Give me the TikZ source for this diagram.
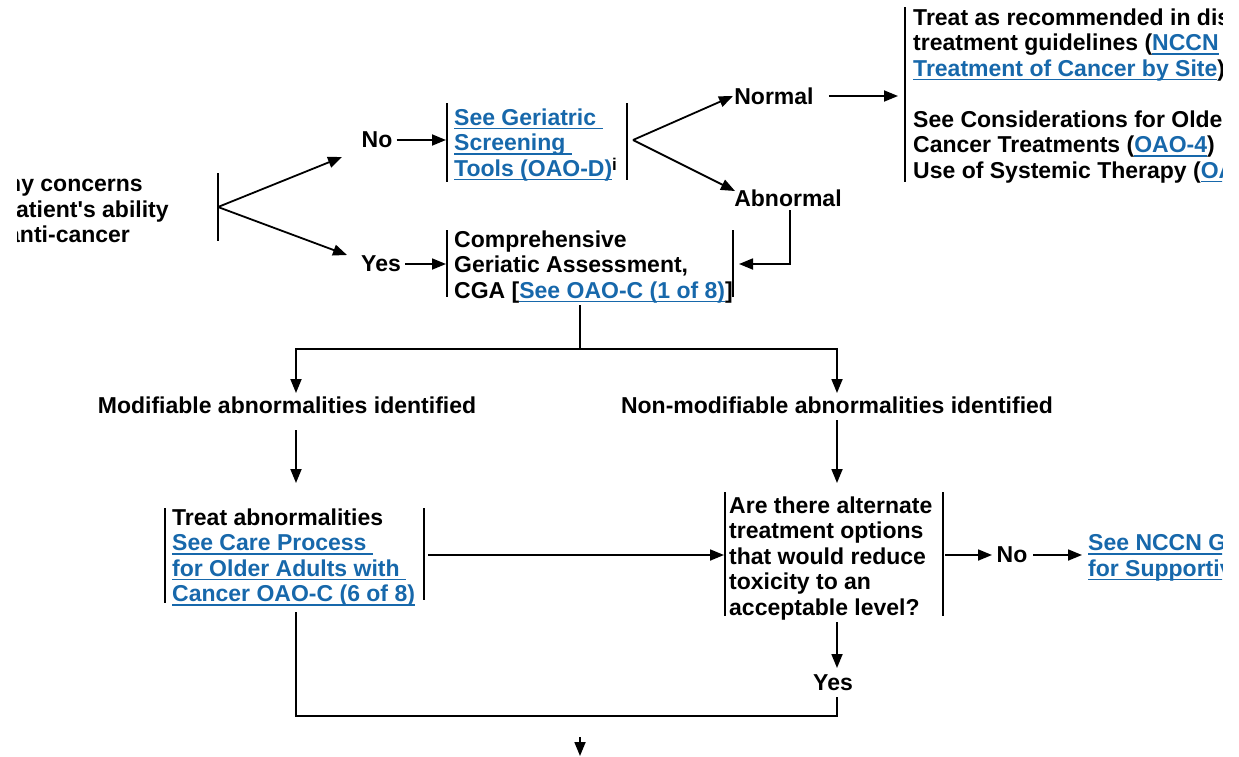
\documentclass[tikz,border=0pt]{standalone}
\usepackage{fontspec}
\setmainfont{Liberation Sans}
\usetikzlibrary{arrows.meta}
\definecolor{linkblue}{RGB}{23,104,171}
% underlined link text with a fixed rule position
\newcommand{\lnk}[1]{{\color{linkblue}\setbox0\hbox{#1}\rlap{\rule[-3.8pt]{\wd0}{1.5pt}}\box0}}
\begin{document}
\begin{tikzpicture}[x=1pt,y=-1pt,
  every node/.style={font=\fontsize{23}{25.5}\selectfont\bfseries, inner sep=0pt, text=black},
  txt/.style={anchor=north west, align=left},
  lbl/.style={anchor=center},
  arr/.style={line width=1.8pt, -{Triangle[length=14pt,width=11pt]}},
  conn/.style={line width=1.8pt},
  bar/.style={line width=1.9pt}]
\useasboundingbox (0,0) rectangle (1239,756);
\begin{scope}
\clip (17,-5) rectangle (1222,760);

% question at the far left, cut by the page edge
\node[anchor=base west] (q1) at (7,191) {ny concerns};
\node[anchor=base west] (q2) at (16,217) {atient\textquotesingle s ability};
\node[anchor=base west] (q3) at (7,242) {anti-cancer};
\coordinate (qb) at (218,207);
\draw[bar] (218,173) -- (218,241);

% first branch
\node[lbl] (no1) at (377,140) {No};
\node[lbl] (yes1) at (381,264) {Yes};
\draw[arr] (qb) -- (342,157);
\draw[arr] (qb) -- (347,255);

% screening tools
\node[txt] (scr) at (454,108.5) {\lnk{See Geriatric\ }\\\lnk{Screening\ }\\\lnk{Tools (OAO-D)}{\fontsize{17}{17}\selectfont\raisebox{6pt}{i}}};
\draw[bar] (447,103) -- (447,182);
\draw[bar] (627,103) -- (627,180);
\draw[arr] (no1.east) ++(4,0) -- (446,140);
\coordinate (sb) at (633,140);
\node[lbl] (norm) at (774,96) {Normal};
\node[lbl] (abn) at (788,198) {Abnormal};
\draw[arr] (sb) -- (733,96);
\draw[arr] (sb) -- (735,191);

% treatment per disease site
\node[txt] (site) at (913,8.5) {Treat as recommended in dis\\
treatment guidelines (\lnk{NCCN}\\
\lnk{Treatment of Cancer by Site})\\[25.5pt]
See Considerations for Older\\
Cancer Treatments (\lnk{OAO-4})\\
Use of Systemic Therapy (\lnk{OA}};
\draw[bar] (905,7) -- (905,182);
\draw[arr] (norm.east) ++(15,0) -- (898,96);

% comprehensive geriatric assessment
\node[txt] (cga) at (454,230.5) {Comprehensive\\Geriatic Assessment,\\CGA [\lnk{See OAO-C (1 of 8)}]};
\draw[bar] (447,230) -- (447,297);
\draw[bar] (733,230) -- (733,297);
\draw[arr] (yes1.east) ++(4,0) -- (446,264);
\draw[arr] (790,210) -- (790,264) -- (739,264);

% split after the assessment
\coordinate (split) at (580,349);
\draw[conn] (580,305) -- (split);
\draw[arr] (split) -- (296,349) -- (296,393);
\draw[arr] (split) -- (837,349) -- (837,393);
\node[lbl] (mod) at (287,405) {Modifiable abnormalities identified};
\node[lbl] (nonmod) at (837,405) {Non-modifiable abnormalities identified};
\draw[arr] (296,430) -- (296,483);
\draw[arr] (837,420) -- (837,483);

% treat abnormalities
\node[txt] (treat) at (172,508.5) {Treat abnormalities\\\lnk{See Care Process\ }\\\lnk{for Older Adults with\ }\\\lnk{Cancer OAO-C (6 of 8)}};
\draw[bar] (165,508) -- (165,603);
\draw[bar] (424,508) -- (424,600);
\draw[arr] (428,555) -- (724,555);

% alternate options question
\node[txt] (alt) at (729,496.5) {Are there alternate\\treatment options\\that would reduce\\toxicity to an\\acceptable level?};
\draw[bar] (725,492) -- (725,616);
\draw[bar] (943,492) -- (943,616);
\node[lbl] (no2) at (1012,555) {No};
\draw[arr] (945,555) -- (992,555);
\draw[arr] (1033,555) -- (1082,555);
\node[txt] (supp) at (1088,534.5) {\lnk{See NCCN G}\\\lnk{for Supportiv}};
\node[lbl] (yes2) at (833,683) {Yes};
\draw[arr] (837,622) -- (837,668);

% merge and continue
\coordinate (merge) at (580,716);
\draw[conn] (296,612) -- (296,716) -- (837,716) -- (837,697);
\draw[arr] (580,737) -- (580,756);
\end{scope}
\end{tikzpicture}
\end{document}
